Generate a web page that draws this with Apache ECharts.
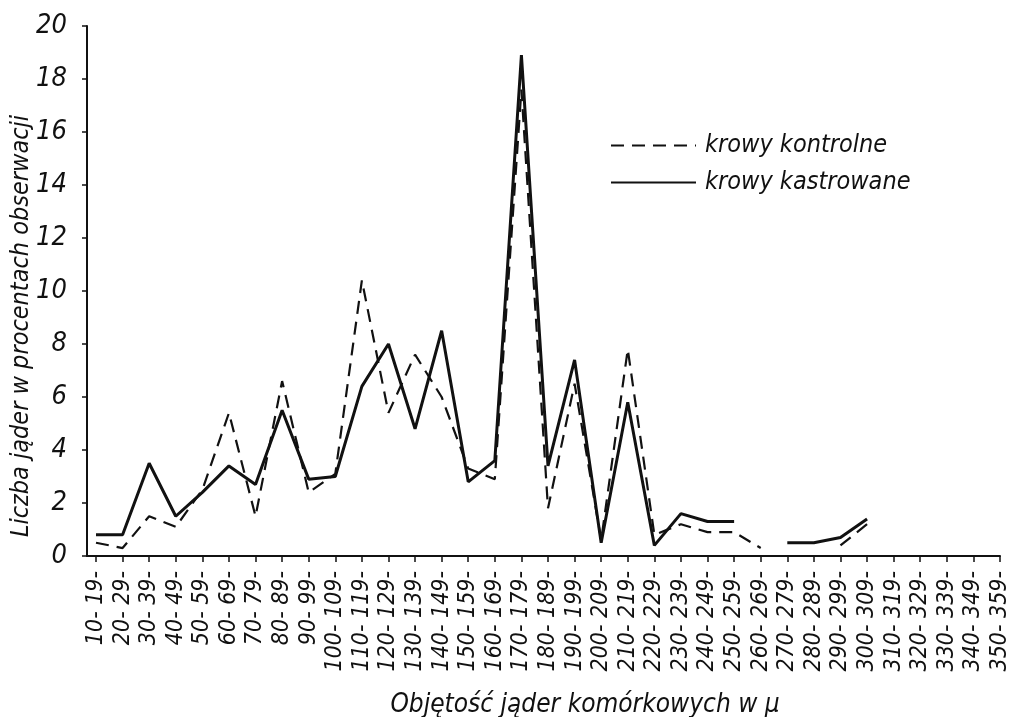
<!DOCTYPE html>
<html>
<head>
<meta charset="utf-8">
<script src="https://cdn.jsdelivr.net/npm/echarts@6/dist/echarts.min.js"></script>
<style>
  html, body { margin: 0; padding: 0; background: #fff; }
  #chart { width: 1011px; height: 717px; }
</style>
</head>
<body>
<div id="chart"></div>
<script>
  // przedziały objętości jąder
  var categories = [
    '10-19', '20-29', '30-39', '40-49', '50-59', '60-69', '70-79', '80-89', '90-99',
    '100-109', '110-119', '120-129', '130-139', '140-149', '150-159', '160-169',
    '170-179', '180-189', '190-199', '200-209', '210-219', '220-229', '230-239',
    '240-249', '250-259', '260-269', '270-279', '280-289', '290-299', '300-309',
    '310-319', '320-329', '330-339', '340-349', '350-359'
  ];
  // krowy kontrolne (linia przerywana)
  var kontrolne = [
    0.5, 0.3, 1.5, 1.1, 2.5, 5.4, 1.5, 6.6, 2.4, 3.1, 10.4, 5.4, 7.6, 6.0, 3.3, 2.9,
    17.6, 1.8, 6.5, 0.6, 7.8, 0.8, 1.2, 0.9, 0.9, 0.3, null, null, 0.4, 1.2,
    null, null, null, null, null
  ];
  // krowy kastrowane (linia ciągła)
  var kastrowane = [
    0.8, 0.8, 3.5, 1.5, 2.4, 3.4, 2.7, 5.5, 2.9, 3.0, 6.4, 8.0, 4.8, 8.5, 2.8, 3.6,
    18.9, 3.4, 7.4, 0.5, 5.8, 0.4, 1.6, 1.3, 1.3, null, 0.5, 0.5, 0.7, 1.4,
    null, null, null, null, null
  ];
  var yTicks = [0, 20, 2]; // min, max, krok

  var font = '"DejaVu Sans Condensed", "Liberation Sans Narrow", sans-serif';
  var ink = '#111';

  var chart = echarts.init(document.getElementById('chart'));
  chart.setOption({
    backgroundColor: '#fff',
    animation: false,
    textStyle: { fontFamily: font, fontStyle: 'italic', color: ink },
    legend: {
      orient: 'vertical',
      left: 605,
      top: 128,
      itemWidth: 85,
      itemHeight: 14,
      itemGap: 12,
      itemStyle: { opacity: 0 },
      textStyle: { fontFamily: font, fontStyle: 'italic', fontSize: 25, color: ink, padding: [0, 0, 0, 4] },
      data: ['krowy kontrolne', 'krowy kastrowane']
    },
    grid: [
      // ramka z osią Y
      { left: 87, right: 11, top: 26, bottom: 161, outerBoundsMode: 'none', containLabel: false },
      // dane
      { left: 96, right: 11, top: 26, bottom: 161, outerBoundsMode: 'none', containLabel: false }
    ],
    xAxis: [
      {
        type: 'value', gridIndex: 0, min: 0, max: 1,
        axisLine: { show: true, lineStyle: { color: ink, width: 2 } },
        axisTick: { show: false }, axisLabel: { show: false }, splitLine: { show: false }
      },
      {
        type: 'category', gridIndex: 1, data: categories, boundaryGap: false,
        axisLine: { show: false },
        axisTick: { show: true, length: 6, alignWithLabel: true, lineStyle: { color: ink, width: 1.5 } },
        axisLabel: {
          interval: 0, rotate: 90, margin: 15, fontSize: 23, color: ink,
          fontFamily: font, fontStyle: 'italic',
          formatter: function (v) { return v.replace('-', '- ') + '-'; }
        },
        splitLine: { show: false },
        name: 'Objętość jąder komórkowych w μ',
        nameLocation: 'middle',
        nameGap: 136,
        nameMoveOverlap: false,
        nameTextStyle: { fontSize: 26, fontStyle: 'italic', fontFamily: font, color: ink, padding: [0, 0, 0, 74] }
      }
    ],
    yAxis: [
      {
        type: 'value', gridIndex: 0, min: yTicks[0], max: yTicks[1], interval: yTicks[2],
        axisLine: { show: true, lineStyle: { color: ink, width: 2 } },
        axisTick: { show: true, length: 5, lineStyle: { color: ink, width: 1.5 } },
        axisLabel: { fontSize: 27, margin: 20, color: ink, fontFamily: font, fontStyle: 'italic' },
        splitLine: { show: false },
        name: 'Liczba jąder w procentach obserwacji',
        nameLocation: 'middle',
        nameRotate: 90,
        nameGap: 53,
        nameMoveOverlap: false,
        nameTextStyle: { fontSize: 25, fontStyle: 'italic', fontFamily: font, color: ink, padding: [0, 70, 0, 0] }
      },
      {
        type: 'value', gridIndex: 1, min: yTicks[0], max: yTicks[1], interval: yTicks[2],
        show: false
      }
    ],
    series: [
      {
        name: 'krowy kontrolne', type: 'line', xAxisIndex: 1, yAxisIndex: 1,
        data: kontrolne, symbol: 'none', connectNulls: false,
        lineStyle: { color: ink, width: 2.2, type: [13, 8] },
        itemStyle: { color: ink }
      },
      {
        name: 'krowy kastrowane', type: 'line', xAxisIndex: 1, yAxisIndex: 1,
        data: kastrowane, symbol: 'none', connectNulls: false,
        lineStyle: { color: ink, width: 3 },
        itemStyle: { color: ink }
      }
    ]
  });
</script>
</body>
</html>
